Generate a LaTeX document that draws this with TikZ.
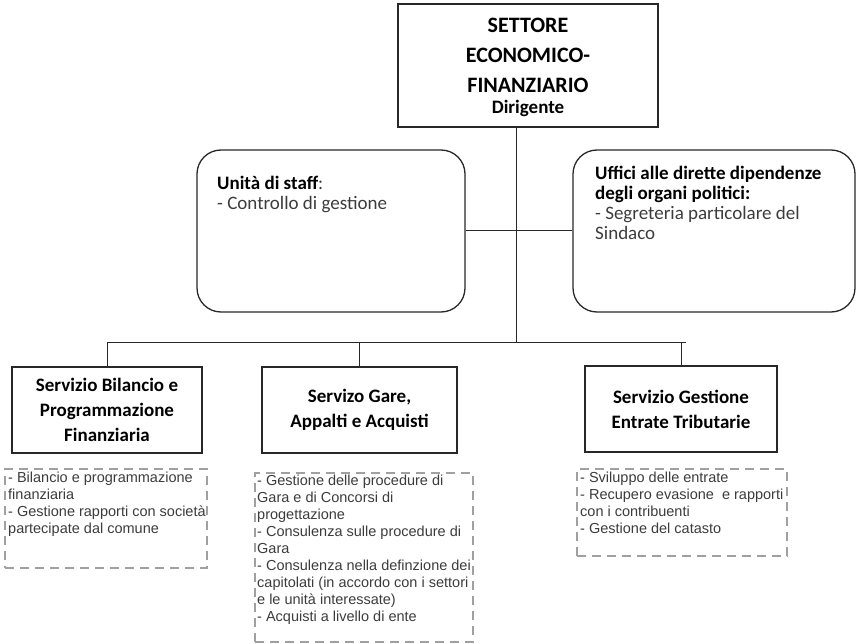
\documentclass[tikz,border=0pt]{standalone}
\usepackage{fontspec}
\setmainfont{Carlito}
\newfontfamily\arialfont{Liberation Sans}
\usetikzlibrary{positioning}

\definecolor{linegray}{RGB}{40,40,40}
\definecolor{dashgray}{RGB}{160,160,160}
\definecolor{textgray}{RGB}{60,60,60}

\tikzset{
  titlebox/.style={draw=linegray, line width=1.3pt, minimum width=260pt, minimum height=123pt, inner sep=0pt},
  titletext/.style={anchor=north, align=center, inner sep=0pt, font=\bfseries\fontsize{22}{30}\selectfont},
  roundbox/.style={draw=linegray, line width=1.3pt, rounded corners=24pt, minimum height=162pt, inner sep=0pt},
  servbox/.style={draw=linegray, line width=1.3pt, minimum height=86pt, inner sep=0pt, align=center, font=\bfseries\fontsize{19}{25}\selectfont},
  taskbox/.style={draw=dashgray, line width=1.6pt, dash pattern=on 9pt off 6pt, inner sep=0pt},
  tasktext/.style={anchor=north west, align=left, inner sep=0pt, text=textgray, font=\arialfont\fontsize{14.5}{17}\selectfont},
  boxtext/.style={anchor=north west, align=left, inner sep=0pt, text=textgray, font=\fontsize{19}{20}\selectfont},
  link/.style={draw=linegray, line width=1pt}
}

\begin{document}
\begin{tikzpicture}[x=1pt, y=-1pt]
\useasboundingbox (0,0) rectangle (857,644);
% settore
\node[titlebox] (settore) at (528,65.5) {};
\node[titletext] (settoretext) at (528,18) {SETTORE\\ECONOMICO-\\FINANZIARIO\\[-9pt]{\fontsize{19}{22}\selectfont Dirigente}};
% staff e uffici
\node[roundbox, minimum width=268pt] (staff) at (331,231) {};
\node[boxtext] (stafftext) at (217,176) {\textcolor{black}{\bfseries Unità di staff}:\\- Controllo di gestione};
\node[roundbox, minimum width=282pt] (uffici) at (714,231) {};
\node[boxtext] (ufficitext) at (595,166) {\textcolor{black}{\bfseries Uffici alle dirette dipendenze}\\\textcolor{black}{\bfseries degli organi politici:}\\- Segreteria particolare del\\Sindaco};
% servizi
\node[servbox, minimum width=190pt] (bilancio) at (107,410) {Servizio Bilancio e\\Programmazione\\Finanziaria};
\node[servbox, minimum width=195pt] (gare) at (359.5,410) {Servizo Gare,\\Appalti e Acquisti};
\node[servbox, minimum width=192pt] (tributi) at (681,409) {Servizio Gestione\\Entrate Tributarie};
% compiti
\node[taskbox, minimum width=202pt, minimum height=99pt] (compiti1) at (106,518.5) {};
\node[tasktext] (testo1) at (8,472) {- Bilancio e programmazione\\finanziaria\\- Gestione rapporti con società\\partecipate dal comune};
\node[taskbox, minimum width=218pt, minimum height=169pt] (compiti2) at (364,557.5) {};
\node[tasktext] (testo2) at (257,475) {- Gestione delle procedure di\\Gara e di Concorsi di\\progettazione\\- Consulenza sulle procedure di\\Gara\\- Consulenza nella definzione dei\\capitolati (in accordo con i settori\\e le unità interessate)\\- Acquisti a livello di ente};
\node[taskbox, minimum width=210pt, minimum height=87pt] (compiti3) at (682,512.5) {};
\node[tasktext] (testo3) at (580,472) {- Sviluppo delle entrate\\- Recupero evasione\ \ e rapporti\\con i contribuenti\\- Gestione del catasto};
% collegamenti
\coordinate (bus) at (516,343);
\draw[link] ([xshift=-12pt]settore.south) -- (bus); % linea verticale
\draw[link] (staff.east) -- (uffici.west);
\draw[link] (bilancio.north |- bus) -- ([xshift=5pt]tributi.north |- bus);
\foreach \s in {bilancio,gare,tributi}
  \draw[link] (\s.north) -- (\s.north |- bus);
\end{tikzpicture}
\end{document}
